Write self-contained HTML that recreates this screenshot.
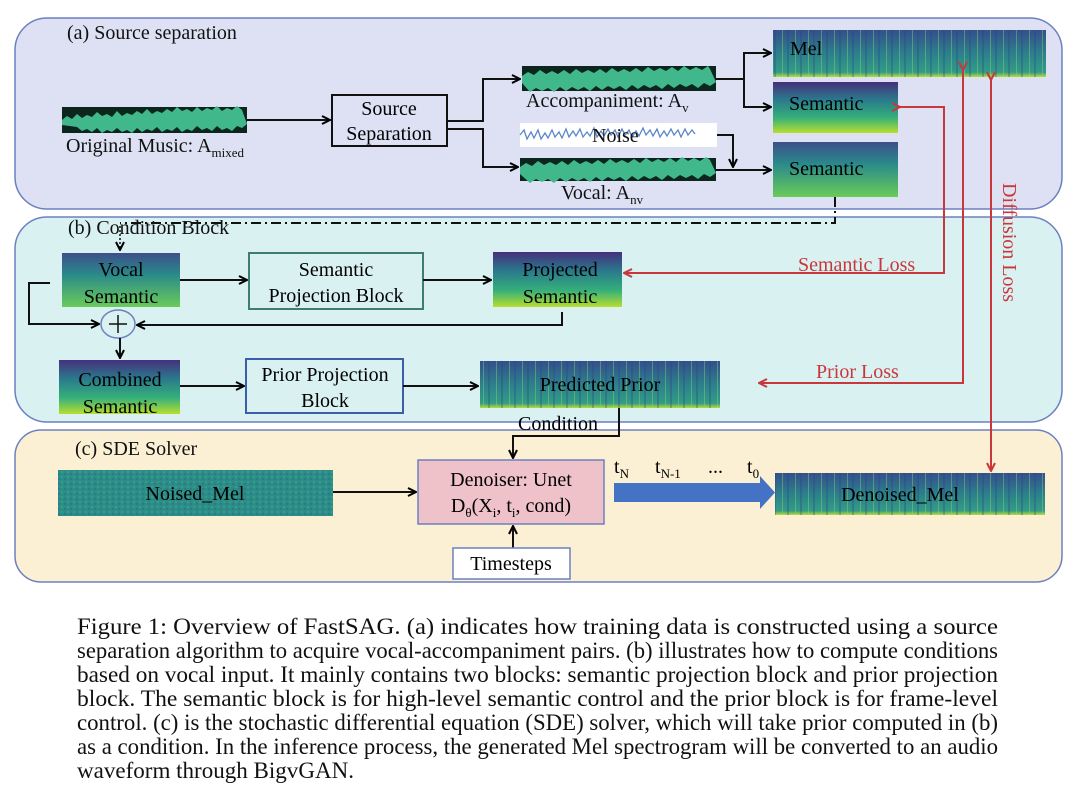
<!DOCTYPE html>
<html><head><meta charset="utf-8"><style>
html,body{margin:0;padding:0;background:#fff;}
svg{display:block;font-family:"Liberation Serif",serif;}
</style></head><body>
<svg width="1080" height="806" viewBox="0 0 1080 806" xmlns="http://www.w3.org/2000/svg">
<defs>
<linearGradient id="sem" x1="0" y1="0" x2="0" y2="1">
<stop offset="0" stop-color="#45307c"/><stop offset="0.35" stop-color="#2a7a8c"/><stop offset="0.7" stop-color="#35b07a"/><stop offset="1" stop-color="#b8de2f"/></linearGradient>
<linearGradient id="sem2" x1="0" y1="0" x2="0" y2="1">
<stop offset="0" stop-color="#3d4f8a"/><stop offset="0.4" stop-color="#2a8a8a"/><stop offset="1" stop-color="#6acb5a"/></linearGradient>
<linearGradient id="mel" x1="0" y1="0" x2="0" y2="1">
<stop offset="0" stop-color="#34508c"/><stop offset="0.5" stop-color="#2b808c"/><stop offset="0.9" stop-color="#329c86"/><stop offset="1" stop-color="#b8dc3a"/></linearGradient>
<pattern id="stripes" width="13" height="10" patternUnits="userSpaceOnUse">
<rect x="2" width="1" height="10" fill="#9fd86a" opacity="0.4"/><rect x="7" width="2" height="10" fill="#2d3e7e" opacity="0.3"/></pattern>
<pattern id="noisep" width="6" height="5" patternUnits="userSpaceOnUse">
<rect width="6" height="5" fill="#2c8d88"/><rect x="1" y="1" width="2" height="2" fill="#3aa583" opacity=".7"/><rect x="4" y="3" width="2" height="2" fill="#2b6f8c" opacity=".6"/></pattern>
<marker id="ak" markerWidth="10" markerHeight="10" refX="9" refY="5" orient="auto" markerUnits="userSpaceOnUse"><path d="M1,1 L9,5 L1,9" fill="none" stroke="#000" stroke-width="2"/></marker>
<marker id="ar" markerWidth="10" markerHeight="10" refX="9" refY="5" orient="auto" markerUnits="userSpaceOnUse"><path d="M1,1 L9,5 L1,9" fill="none" stroke="#c8373c" stroke-width="2"/></marker>
</defs>

<rect x="15" y="18" width="1047" height="191" rx="32" fill="#dde1f3" stroke="#6c80c0" stroke-width="1.5"/>
<rect x="15" y="217" width="1047" height="205" rx="32" fill="#d9f1f1" stroke="#6c80c0" stroke-width="1.5"/>
<rect x="15" y="430" width="1047" height="152" rx="26" fill="#fbf0d3" stroke="#6c80c0" stroke-width="1.5"/>

<g font-size="20" fill="#111">
<text x="67" y="39">(a) Source separation</text>
<text x="68" y="234">(b) Condition Block</text>
<text x="75" y="455">(c) SDE Solver</text>
</g>

<g>
<rect x="62" y="107" width="185" height="26" fill="#0c261e"/>
<path d="M62,120 l5,-4 l5,3 l5,-5 l5,4 l5,-3 l5,2 l5,-5 l5,4 l5,-2 l5,3 l5,-6 l5,5 l5,-3 l5,2 l5,-4 l5,3 l5,-5 l5,5 l5,-3 l5,2 l5,-4 l5,3 l5,-5 l5,4 l5,-2 l5,3 l5,-5 l5,4 l5,-3 l5,2 l5,-4 l5,5 l5,-3 l5,2 l5,-4 l5,4 L247,124 l-5,4 l-5,-2 l-5,5 l-5,-3 l-5,2 l-5,-4 l-5,5 l-5,-3 l-5,2 l-5,-4 l-5,5 l-5,-2 l-5,3 l-5,-5 l-5,4 l-5,-2 l-5,3 l-5,-5 l-5,4 l-5,-2 l-5,3 l-5,-4 l-5,5 l-5,-3 l-5,2 l-5,-4 l-5,4 l-5,-2 l-5,3 l-5,-5 l-5,4 l-5,-3 l-5,2 l-5,-4 L62,125Z" fill="#40b88c"/>
<rect x="522" y="66" width="194" height="25" fill="#0c261e"/>
<path d="M522,76 l6,-4 l6,3 l6,-5 l6,4 l6,-3 l6,3 l6,-4 l6,4 l6,-5 l6,4 l6,-3 l6,3 l6,-4 l6,4 l6,-5 l6,4 l6,-3 l6,3 l6,-4 l6,4 l6,-5 l6,4 l6,-3 l6,3 l6,-4 l6,4 l6,-5 l6,4 l6,-3 l6,3 l6,-4 l2,3 L716,82 l-6,4 l-6,-3 l-6,5 l-6,-4 l-6,3 l-6,-3 l-6,4 l-6,-4 l-6,5 l-6,-4 l-6,3 l-6,-3 l-6,4 l-6,-4 l-6,5 l-6,-4 l-6,3 l-6,-3 l-6,4 l-6,-4 l-6,5 l-6,-4 l-6,3 l-6,-3 l-6,4 l-6,-4 l-6,5 l-6,-4 l-6,3 l-6,-3 l-6,4 L522,83Z" fill="#40b88c"/>
<rect x="520" y="123" width="197" height="24" fill="#fff"/>
<path d="M520,135 l4,-5 l3,9 l4,-7 l3,6 l4,-8 l3,9 l4,-6 l3,5 l4,-8 l3,7 l4,-5 l3,6 l4,-9 l3,8 l4,-6 l3,5 l4,-7 l3,8 l4,-5 l3,4 l4,-8 l3,9 l4,-6 l3,5 l4,-7 l3,6 l4,-5 l3,7 l4,-8 l3,6 l4,-5 l3,7 l4,-6 l3,5 l4,-8 l3,7 l4,-5 l3,6 l4,-7 l3,8 l4,-6 l3,5 l4,-7 l3,6 l4,-5 l3,7 l4,-8 l3,6 l4,-5 l3,4" fill="none" stroke="#5b86c8" stroke-width="1.3"/>
<rect x="520" y="158" width="196" height="23" fill="#0c261e"/>
<path d="M520,167 l6,-4 l6,3 l6,-5 l6,4 l6,-3 l6,3 l6,-4 l6,4 l6,-5 l6,4 l6,-3 l6,3 l6,-4 l6,4 l6,-5 l6,4 l6,-3 l6,3 l6,-4 l6,4 l6,-5 l6,4 l6,-3 l6,3 l6,-4 l6,4 l6,-5 l6,4 l6,-3 l6,3 l6,-4 l4,3 L716,173 l-6,4 l-6,-3 l-6,5 l-6,-4 l-6,3 l-6,-3 l-6,4 l-6,-4 l-6,5 l-6,-4 l-6,3 l-6,-3 l-6,4 l-6,-4 l-6,5 l-6,-4 l-6,3 l-6,-3 l-6,4 l-6,-4 l-6,5 l-6,-4 l-6,3 l-6,-3 l-6,4 l-6,-4 l-6,5 l-6,-4 l-6,3 l-6,-3 l-6,4 L520,174Z" fill="#40b88c"/>
</g>
<g font-size="20" fill="#111">
<text x="66" y="152">Original Music: A<tspan font-size="13" dy="5">mixed</tspan></text>
<text x="526" y="107">Accompaniment: A<tspan font-size="13" dy="5">v</tspan></text>
<text x="592" y="142">Noise</text>
<text x="561" y="199">Vocal: A<tspan font-size="13" dy="5">nv</tspan></text>
</g>

<rect x="332" y="95" width="115" height="51" fill="#dde1f3" stroke="#111" stroke-width="2"/>
<text x="389" y="115" font-size="20" text-anchor="middle">Source</text>
<text x="389" y="140" font-size="20" text-anchor="middle">Separation</text>

<rect x="773" y="30" width="273" height="47" fill="url(#mel)"/>
<rect x="773" y="30" width="273" height="47" fill="url(#stripes)"/>
<text x="790" y="55" font-size="20">Mel</text>
<rect x="773" y="82" width="125" height="51" fill="url(#sem)"/>
<text x="789" y="110" font-size="20">Semantic</text>
<rect x="773" y="142" width="125" height="55" fill="url(#sem2)"/>
<text x="789" y="175" font-size="20">Semantic</text>

<g fill="none" stroke="#111" stroke-width="2">
<path d="M247,120 H330" marker-end="url(#ak)"/>
<path d="M447,121 H483 V79 H520" marker-end="url(#ak)"/>
<path d="M447,129 H483 V167 H518" marker-end="url(#ak)"/>
<path d="M716,79 H744 V53 H771" marker-end="url(#ak)"/>
<path d="M744,79 V107 H771" marker-end="url(#ak)"/>
<path d="M717,135 H733 V167" marker-end="url(#ak)"/>
<path d="M716,170 H771" marker-end="url(#ak)"/>
</g>
<path d="M835,197 V223 H120" fill="none" stroke="#111" stroke-width="2" stroke-dasharray="10,4,2,4"/>
<path d="M120,226 V250" fill="none" stroke="#111" stroke-width="1.5" stroke-dasharray="2,2" marker-end="url(#ak)"/>

<rect x="62" y="253" width="118" height="54" fill="url(#sem2)"/>
<text x="121" y="276" font-size="20" text-anchor="middle">Vocal</text>
<text x="121" y="303" font-size="20" text-anchor="middle">Semantic</text>
<rect x="249" y="253" width="174" height="56" fill="#d9f1f1" stroke="#3e7d72" stroke-width="2"/>
<text x="336" y="276" font-size="20" text-anchor="middle">Semantic</text>
<text x="336" y="302" font-size="20" text-anchor="middle">Projection Block</text>
<rect x="493" y="252" width="129" height="55" fill="url(#sem)"/>
<text x="560" y="276" font-size="20" text-anchor="middle">Projected</text>
<text x="560" y="303" font-size="20" text-anchor="middle">Semantic</text>
<ellipse cx="118" cy="324" rx="17" ry="14" fill="#d9f1f1" stroke="#6c80c0" stroke-width="1.5"/>
<path d="M109,324 H127 M118,315 V333" stroke="#111" stroke-width="1.5"/>
<rect x="59" y="360" width="121" height="54" fill="url(#sem)"/>
<text x="120" y="386" font-size="20" text-anchor="middle">Combined</text>
<text x="120" y="413" font-size="20" text-anchor="middle">Semantic</text>
<rect x="246" y="359" width="157" height="54" fill="#d9f1f1" stroke="#3a5fa8" stroke-width="2"/>
<text x="325" y="381" font-size="20" text-anchor="middle">Prior Projection</text>
<text x="325" y="407" font-size="20" text-anchor="middle">Block</text>
<rect x="480" y="361" width="240" height="47" fill="url(#mel)"/>
<rect x="480" y="361" width="240" height="47" fill="url(#stripes)"/>
<text x="600" y="391" font-size="20" text-anchor="middle">Predicted Prior</text>

<g fill="none" stroke="#111" stroke-width="2">
<path d="M180,280 H247" marker-end="url(#ak)"/>
<path d="M423,280 H491" marker-end="url(#ak)"/>
<path d="M50,283 H29 V324 H99" marker-end="url(#ak)"/>
<path d="M562,312 V325 H137" marker-end="url(#ak)"/>
<path d="M120,338 V358" marker-end="url(#ak)"/>
<path d="M180,386 H244" marker-end="url(#ak)"/>
<path d="M403,386 H478" marker-end="url(#ak)"/>
<path d="M619,408 V436 H513 V458" marker-end="url(#ak)"/>
<path d="M333,492 H416" marker-end="url(#ak)"/>
<path d="M513,548 V526" marker-end="url(#ak)"/>
</g>
<text x="518" y="430" font-size="20">Condition</text>

<g fill="none" stroke="#c8373c" stroke-width="2">
<path d="M900,107 H944 V273 H624" marker-start="url(#ar)" marker-end="url(#ar)"/>
<path d="M963,70 V383 H759" marker-start="url(#ar)" marker-end="url(#ar)"/>
<path d="M991,80 V471" marker-start="url(#ar)" marker-end="url(#ar)"/>
</g>
<g fill="#c8373c" font-size="20">
<text x="798" y="271">Semantic Loss</text>
<text x="816" y="378">Prior Loss</text>
<text transform="translate(1003,183) rotate(90)">Diffusion Loss</text>
</g>

<rect x="58" y="470" width="275" height="46" fill="url(#noisep)"/>
<text x="195" y="500" font-size="20" text-anchor="middle">Noised_Mel</text>
<rect x="418" y="460" width="186" height="64" fill="#efc1c9" stroke="#6c80c0" stroke-width="1.5"/>
<text x="511" y="486" font-size="20" text-anchor="middle">Denoiser: Unet</text>
<text x="511" y="512" font-size="20" text-anchor="middle">D<tspan font-size="13" dy="5">θ</tspan><tspan dy="-5">(X</tspan><tspan font-size="13" dy="5">i</tspan><tspan dy="-5">, t</tspan><tspan font-size="13" dy="5">i</tspan><tspan dy="-5">, cond)</tspan></text>
<rect x="453" y="548" width="117" height="31" fill="#fff" stroke="#6c80c0" stroke-width="1.5"/>
<text x="511" y="570" font-size="20" text-anchor="middle">Timesteps</text>
<path d="M614,483 H760 V476 L775,492.5 L760,509 V502 H614Z" fill="#4472c4"/>
<g font-size="20">
<text x="614" y="473">t<tspan font-size="13" dy="5">N</tspan></text>
<text x="655" y="473">t<tspan font-size="13" dy="5">N-1</tspan></text>
<text x="708" y="473">...</text>
<text x="747" y="473">t<tspan font-size="13" dy="5">0</tspan></text>
</g>
<rect x="775" y="473" width="270" height="42" fill="url(#mel)"/>
<rect x="775" y="473" width="270" height="42" fill="url(#stripes)"/>
<text x="900" y="501" font-size="20" text-anchor="middle">Denoised_Mel</text>

<g font-size="23" fill="#111">
<text x="77" y="634" textLength="921" lengthAdjust="spacingAndGlyphs">Figure 1:  Overview of FastSAG. (a) indicates how training data is constructed using a source</text>
<text x="77" y="658" textLength="921" lengthAdjust="spacingAndGlyphs">separation algorithm to acquire vocal-accompaniment pairs. (b) illustrates how to compute conditions</text>
<text x="77" y="682" textLength="921" lengthAdjust="spacingAndGlyphs">based on vocal input. It mainly contains two blocks: semantic projection block and prior projection</text>
<text x="77" y="706" textLength="921" lengthAdjust="spacingAndGlyphs">block. The semantic block is for high-level semantic control and the prior block is for frame-level</text>
<text x="77" y="730" textLength="921" lengthAdjust="spacingAndGlyphs">control. (c) is the stochastic differential equation (SDE) solver, which will take prior computed in (b)</text>
<text x="77" y="754" textLength="921" lengthAdjust="spacingAndGlyphs">as a condition. In the inference process, the generated Mel spectrogram will be converted to an audio</text>
<text x="77" y="778" textLength="277" lengthAdjust="spacingAndGlyphs">waveform through BigvGAN.</text>
</g>
</svg>
</body></html>
